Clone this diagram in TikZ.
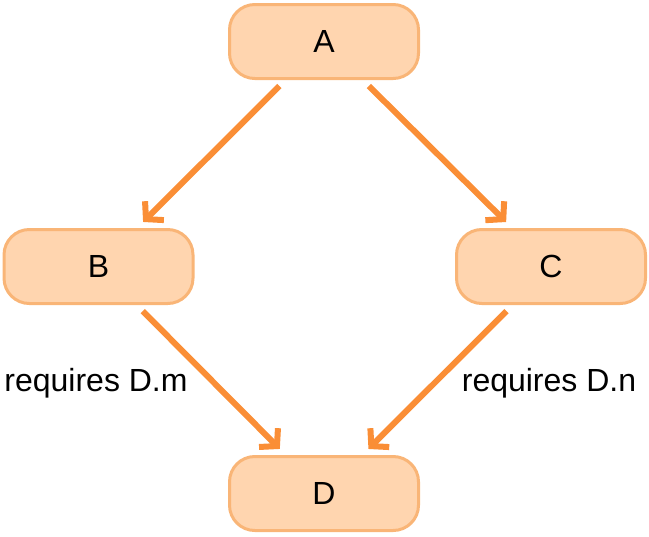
\documentclass[tikz,border=0pt]{standalone}
\usepackage{fontspec}
\setmainfont{Liberation Sans}
\usetikzlibrary{arrows.meta}
\definecolor{boxfill}{HTML}{FFD5AF}
\definecolor{boxline}{HTML}{F9B577}
\definecolor{arrowc}{HTML}{FA8E36}
\tikzset{
  box/.style={draw=boxline, fill=boxfill, line width=2.25pt, rounded corners=19pt,
    minimum width=141.75pt, minimum height=55.5pt, outer sep=0pt, font=\fontsize{24pt}{28pt}\selectfont},
  conn/.style={draw=arrowc, line width=4.5pt, -{Straight Barb[length=9pt,width=20pt]},
    shorten <=8pt, shorten >=8pt},
  lbl/.style={font=\fontsize{24pt}{28pt}\selectfont, inner sep=0pt}
}
\begin{document}
\begin{tikzpicture}[x=0.75pt,y=-0.75pt]
\useasboundingbox (0,0) rectangle (649,536);
\node[box] (A) at (324,41.5) {A};
\node[box] (B) at (98.5,266.5) {B};
\node[box] (C) at (551,266.5) {C};
\node[box] (D) at (324,493.5) {D};
\draw[conn] (A) -- (B);
\draw[conn] (A) -- (C);
\draw[conn] (B) -- (D);
\draw[conn] (C) -- (D);
\node[lbl] (lm) at (96,383) {requires D.m};
\node[lbl] (ln) at (549,383) {requires D.n};
\end{tikzpicture}
\end{document}
